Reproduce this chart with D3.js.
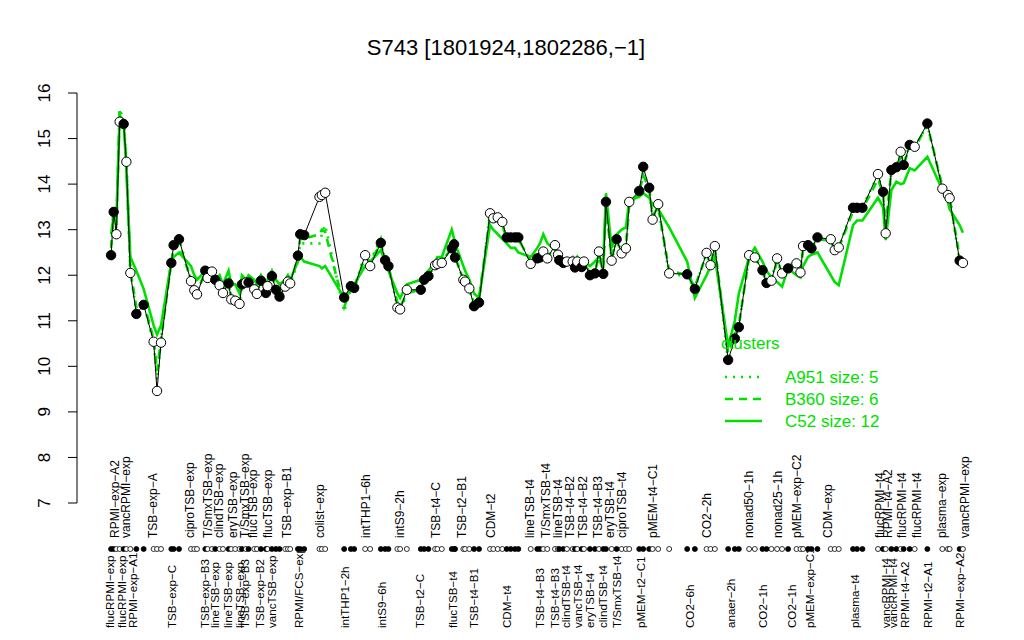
<!DOCTYPE html>
<html><head><meta charset="utf-8">
<script src="https://cdn.jsdelivr.net/npm/d3@7"></script>
<style>body{margin:0;background:#fff} text{font-family:"Liberation Sans",Arial,Helvetica,sans-serif}</style>
</head><body><svg id="c" width="1024" height="640"></svg>
<script>
const samplePos = [22.14,22.66,23.2,23.86,24.66,25.2,26.0,27.2,28.66,30.66,31.34,32.14,34.2,34.66,35.74,38.14,38.8,39.34,41.0,41.46,42.34,43.0,43.86,44.54,45.66,46.2,47.0,47.86,48.34,49.14,49.66,50.8,51.34,52.14,53.14,53.46,54.34,55.14,55.86,57.0,57.54,58.0,59.54,60.0,60.8,63.86,64.34,65.0,68.8,70.14,70.8,73.0,74.0,76.14,77.0,77.66,79.46,80.0,81.34,84.14,84.8,85.66,87.0,87.46,88.34,90.34,90.8,91.0,92.66,93.0,93.86,94.8,95.8,98.0,98.66,99.54,100.46,101.34,102.14,103.0,103.66,106.14,107.46,108.0,108.66,109.46,111.0,111.6,111.86,112.66,113.4,114.54,115.0,115.46,116.34,116.8,118.0,119.0,119.8,120.66,121.2,122.34,123.34,124.34,125.2,125.86,127.86,128.66,129.86,130.54,131.66,133.86,137.46,139.0,141.34,142.14,143.0,145.66,147.0,147.8,149.86,151.0,152.54,153.34,154.34,155.46,156.46,157.66,159.34,160.14,160.66,161.66,162.34,163.54,166.2,167.0,167.8,170.66,171.46,172.54,175.66,176.66,177.2,178.34,179.34,180.2,180.8,182.0,183.0,185.54,188.54,189.66,190.0,192.0,192.66];
const sampleValue = [12.44,13.39,12.9,15.37,15.32,14.49,12.05,11.15,11.35,10.54,9.46,10.52,12.27,12.66,12.79,11.87,11.67,11.58,12.1,11.94,12.08,11.9,11.78,11.61,11.82,11.47,11.44,11.37,11.8,11.84,11.84,11.69,11.59,11.88,11.61,11.76,11.98,11.68,11.53,11.75,11.86,11.82,12.43,12.9,12.88,13.72,13.76,13.81,11.51,11.76,11.72,12.44,12.2,12.71,12.33,12.2,11.29,11.25,11.68,11.68,11.9,11.98,12.22,12.25,12.27,12.59,12.68,12.39,11.9,11.86,11.71,11.32,11.4,13.36,13.25,13.27,13.17,12.83,12.83,12.83,12.83,12.25,12.37,12.39,12.52,12.37,12.66,12.45,12.33,12.27,12.3,12.3,12.17,12.3,12.18,12.3,12.0,12.04,12.52,12.03,13.61,12.32,12.79,12.48,12.59,13.61,13.85,14.38,13.92,13.22,13.56,12.04,12.02,11.7,12.49,12.22,12.64,10.14,10.61,10.86,12.44,12.39,12.11,11.83,11.88,12.37,12.04,12.15,12.26,12.06,12.64,12.66,12.59,12.83,12.79,12.55,12.61,13.48,13.48,13.48,14.22,13.83,12.92,14.31,14.37,14.71,14.42,14.86,14.82,15.33,13.9,13.76,13.69,12.32,12.27];
const sampleFilled = [1,1,0,0,1,0,0,1,1,0,0,0,1,1,1,0,0,0,1,0,0,1,0,0,1,0,0,0,1,0,1,0,0,1,1,0,1,1,1,0,0,0,1,1,1,0,0,0,1,1,1,0,0,1,1,1,0,0,0,1,1,1,0,0,0,1,1,1,0,0,0,1,1,0,0,0,0,1,1,1,1,0,1,1,0,0,0,0,1,1,0,0,1,0,1,0,1,1,0,1,1,0,1,0,0,0,1,1,1,0,0,0,1,1,0,0,0,1,1,1,0,0,1,1,0,0,0,1,0,0,0,1,1,1,0,0,0,1,1,1,0,1,0,1,1,0,1,1,0,1,0,0,0,1,0];
const clusterA951 = [12.5,13.4,13.0,15.65,15.4,14.5,12.1,11.2,11.4,10.5,9.7,10.6,12.3,12.6,12.8,11.9,11.7,11.6,12.1,11.9,12.1,11.9,11.8,11.6,11.8,11.5,11.5,11.4,11.8,11.8,11.8,11.7,11.6,11.9,11.6,11.8,12.0,11.7,11.5,11.8,11.9,11.8,12.3,12.7,12.7,12.7,12.9,13.1,11.2,11.7,11.7,12.5,12.3,12.8,12.3,12.2,11.3,11.2,11.6,11.7,11.9,12.0,12.2,12.3,12.3,12.6,12.7,12.4,11.9,11.8,11.7,11.3,11.4,13.4,13.2,13.3,13.1,12.8,12.8,12.8,12.8,12.3,12.4,12.4,12.5,12.4,12.6,12.4,12.3,12.3,12.3,12.3,12.2,12.3,12.2,12.3,12.0,12.0,12.5,12.0,13.6,12.3,12.8,12.5,12.6,13.6,13.8,14.3,13.9,13.2,13.5,12.0,12.0,11.7,12.5,12.2,12.6,10.1,10.6,10.9,12.4,12.4,12.1,11.8,11.9,12.4,12.0,12.2,12.3,12.1,12.6,12.7,12.6,12.8,12.8,12.6,12.6,13.5,13.5,13.5,14.2,13.8,12.9,14.3,14.4,14.7,14.4,14.9,14.8,15.3,13.9,13.8,13.7,12.3,12.3];
const clusterB360 = [12.6,13.5,13.1,15.6,15.4,14.5,12.1,11.3,11.4,10.6,9.9,10.6,12.3,12.6,12.7,11.9,11.7,11.6,12.1,12.0,12.1,11.9,11.8,11.7,11.9,11.5,11.5,11.4,11.8,11.8,11.9,11.7,11.6,11.9,11.7,11.8,12.0,11.7,11.6,11.8,11.9,11.8,12.4,12.8,12.8,12.9,13.0,12.95,11.3,11.7,11.7,12.4,12.3,12.7,12.3,12.2,11.4,11.3,11.6,11.7,11.9,12.0,12.2,12.25,12.3,12.6,12.65,12.4,11.9,11.85,11.7,11.4,11.5,13.3,13.2,13.2,13.1,12.8,12.8,12.8,12.8,12.3,12.4,12.4,12.5,12.4,12.6,12.45,12.35,12.3,12.3,12.3,12.2,12.3,12.2,12.3,12.05,12.1,12.4,12.1,13.5,12.4,12.75,12.5,12.6,13.55,13.8,14.2,13.9,13.3,13.5,12.1,12.0,11.75,12.45,12.25,12.6,10.3,10.7,10.9,12.4,12.4,12.1,11.9,11.9,12.3,12.05,12.15,12.2,12.1,12.55,12.6,12.6,12.8,12.75,12.55,12.6,13.4,13.45,13.45,14.1,13.8,13.1,14.3,14.35,14.6,14.45,14.8,14.8,15.3,13.95,13.8,13.7,12.4,12.35];
const clusterC52 = [12.9,13.3,13.2,15.5,15.4,14.3,12.4,12.1,11.7,10.9,10.7,10.9,12.3,12.4,12.5,12.2,12.0,11.9,12.1,11.9,12.1,11.9,12.0,11.8,12.1,11.8,11.8,11.6,12.0,11.9,12.0,11.9,11.8,12.0,11.8,11.9,12.1,11.9,11.8,11.9,12.0,11.9,12.3,12.4,12.3,12.2,12.15,12.2,11.5,11.7,11.8,12.2,12.3,12.55,12.3,12.1,11.6,11.5,11.8,11.9,12.0,12.1,12.3,12.4,12.4,13.0,12.8,12.7,12.2,12.1,11.9,11.6,11.5,13.1,13.0,12.9,12.8,12.7,12.6,12.6,12.5,12.4,12.6,12.7,12.9,12.7,12.55,12.5,12.4,12.3,12.3,12.4,12.3,12.4,12.2,12.3,12.2,12.3,12.4,12.3,13.8,12.6,12.9,13.0,13.05,13.65,13.72,13.8,13.7,13.55,13.45,13.05,12.3,11.5,12.0,12.2,12.4,10.45,11.0,11.6,12.4,12.6,12.3,12.1,11.95,11.85,11.75,12.15,12.0,11.95,12.2,12.4,12.45,12.5,12.0,11.85,11.78,13.1,13.2,13.2,13.7,13.5,12.77,13.87,14.05,14.0,14.02,14.35,14.3,14.6,13.87,13.6,13.45,13.1,12.93];
const yTicks = [7,8,9,10,11,12,13,14,15,16];
const topLabels = ["RPMI\u2212exp\u2212A2","vancRPMI\u2212exp","TSB\u2212exp\u2212A","ciproTSB\u2212exp","T/SmxTSB\u2212exp","clindTSB\u2212exp","eryTSB\u2212exp","T/SmxTSB\u2212exp","flucTSB\u2212exp","flucTSB\u2212exp","TSB\u2212exp\u2212B1","colist\u2212exp","intTHP1\u22126h","intS9\u22122h","TSB\u2212t4\u2212C","TSB\u2212t2\u2212B1","CDM\u2212t2","lineTSB\u2212t4","T/SmxTSB\u2212t4","lineTSB\u2212t4","TSB\u2212t4\u2212B2","TSB\u2212t4\u2212B2","TSB\u2212t4\u2212B3","eryTSB\u2212t4","ciproTSB\u2212t4","pMEM\u2212t4\u2212C1","CO2\u22122h","nonad50\u22121h","nonad25\u22121h","pMEM\u2212exp\u2212C2","CDM\u2212exp","flucRPMI\u2212t4","RPMI\u2212t4\u2212A2","flucRPMI\u2212t4","flucRPMI\u2212t4","plasma\u2212exp","vancRPMI\u2212exp"];
const topLabelPos = [22.9,25.0,30.4,37.8,41.6,43.8,46.6,49.0,50.6,53.5,57.4,64.0,73.2,80.0,87.2,92.3,98.1,106.0,109.2,111.6,114.0,116.6,119.6,122.0,124.4,130.6,141.4,149.8,155.6,159.4,165.6,176.0,177.6,180.4,183.4,188.4,193.0];
const bottomLabels = ["flucRPMI\u2212exp","flucRPMI\u2212exp","RPMI\u2212exp\u2212A1","TSB\u2212exp\u2212C","TSB\u2212exp\u2212B3","lineTSB\u2212exp","lineTSB\u2212exp","lineTSB\u2212exp","TSB\u2212exp\u2212B3","TSB\u2212exp\u2212B2","vancTSB\u2212exp","RPMI/FCS\u2212exp","intTHP1\u22122h","intS9\u22126h","TSB\u2212t2\u2212C","flucTSB\u2212t4","TSB\u2212t4\u2212B1","CDM\u2212t4","TSB\u2212t4\u2212B3","TSB\u2212t4\u2212B3","clindTSB\u2212t4","vancTSB\u2212t4","eryTSB\u2212t4","clindTSB\u2212t4","T/SmxTSB\u2212t4","pMEM\u2212t2\u2212C1","CO2\u22126h","anaer\u22122h","CO2\u22121h","CO2\u22121h","pMEM\u2212exp\u2212C1","plasma\u2212t4","vancRPMI\u2212t4","vancRPMI\u2212t4","RPMI\u2212t4\u2212A2","RPMI\u2212t2\u2212A1","RPMI\u2212exp\u2212A2"];
const bottomLabelPos = [22.0,24.3,26.6,34.3,41.0,43.0,45.6,48.0,48.9,52.0,54.3,59.8,69.0,76.4,84.0,90.6,94.8,101.4,108.0,111.0,113.2,115.6,118.0,120.6,123.4,128.2,138.0,146.2,152.6,158.4,162.0,171.0,177.2,178.6,181.0,185.6,192.0];
const legendNames = ["A951 size: 5","B360 size: 6","C52 size: 12"];
const titleText = "S743 [1801924,1802286,\u22121]";

const svg = d3.select("#c");
const green = "#00e000";
const x = d3.scaleLinear().domain([15.32, 199.48]).range([77, 997]);
const y = d3.scaleLinear().domain([7, 16]).range([503, 93]);

svg.append("text").attr("x", 506).attr("y", 55).attr("text-anchor","middle")
  .style("font-size","22px").text(titleText);

// y axis
const ya = svg.append("g").attr("transform","translate(77,0)");
ya.append("line").attr("x1",0).attr("x2",0).attr("y1",y(7)).attr("y2",y(16)).attr("stroke","#000");
yTicks.forEach(t=>{
  ya.append("line").attr("x1",-9).attr("x2",0).attr("y1",y(t)).attr("y2",y(t)).attr("stroke","#000");
  ya.append("text").attr("transform",`translate(-33,${y(t)}) rotate(-90)`).attr("text-anchor","middle")
    .attr("dy","0.35em").style("font-size","17px").text(t);
});

const idx = d3.range(samplePos.length);
function clusterLine(vals, dash){
  svg.append("path").datum(idx)
    .attr("d", d3.line().x(i=>x(samplePos[i])).y(i=>y(vals[i])))
    .attr("fill","none").attr("stroke",green).attr("stroke-width",2.6)
    .attr("stroke-dasharray",dash);
}
clusterLine(clusterA951, "2,6");
clusterLine(clusterB360, "8,6");
clusterLine(clusterC52, null);

svg.append("path").datum(idx)
  .attr("d", d3.line().x(i=>x(samplePos[i])).y(i=>y(sampleValue[i])))
  .attr("fill","none").attr("stroke","#000").attr("stroke-width",1);

svg.selectAll("circle.pt").data(idx).join("circle").attr("class","pt")
  .attr("cx",i=>x(samplePos[i])).attr("cy",i=>y(sampleValue[i])).attr("r",4.7)
  .attr("fill",i=>sampleFilled[i]?"#000":"#fff").attr("stroke","#000");

// marker row
svg.selectAll("circle.mk").data(idx).join("circle").attr("class","mk")
  .attr("cx",i=>x(samplePos[i])).attr("cy",549).attr("r",2.5)
  .attr("fill",i=>sampleFilled[i]?"#000":"#fff").attr("stroke","#000").attr("stroke-width",0.8);

topLabels.forEach((t,i)=>{
  svg.append("text").attr("transform",`translate(${x(topLabelPos[i])},538) rotate(-90)`)
    .attr("dy","0.35em").style("font-size","12px").text(t);
});
bottomLabels.forEach((t,i)=>{
  svg.append("text").attr("transform",`translate(${x(bottomLabelPos[i])},628) rotate(-90)`)
    .attr("dy","0.35em").style("font-size","11.6px").text(t);
});

// legend
const lg = svg.append("g");
lg.append("text").attr("x",721).attr("y",349).attr("fill",green).style("font-size","17px").text("clusters");
const dashes = ["2,6","8,6",null];
legendNames.forEach((n,i)=>{
  const ly = 377 + i*22;
  lg.append("line").attr("x1",725).attr("x2",762).attr("y1",ly).attr("y2",ly)
    .attr("stroke",green).attr("stroke-width",2.6).attr("stroke-dasharray",dashes[i]);
  lg.append("text").attr("x",785).attr("y",ly).attr("dy","0.35em").attr("fill",green)
    .style("font-size","17px").text(n);
});
</script></body></html>
